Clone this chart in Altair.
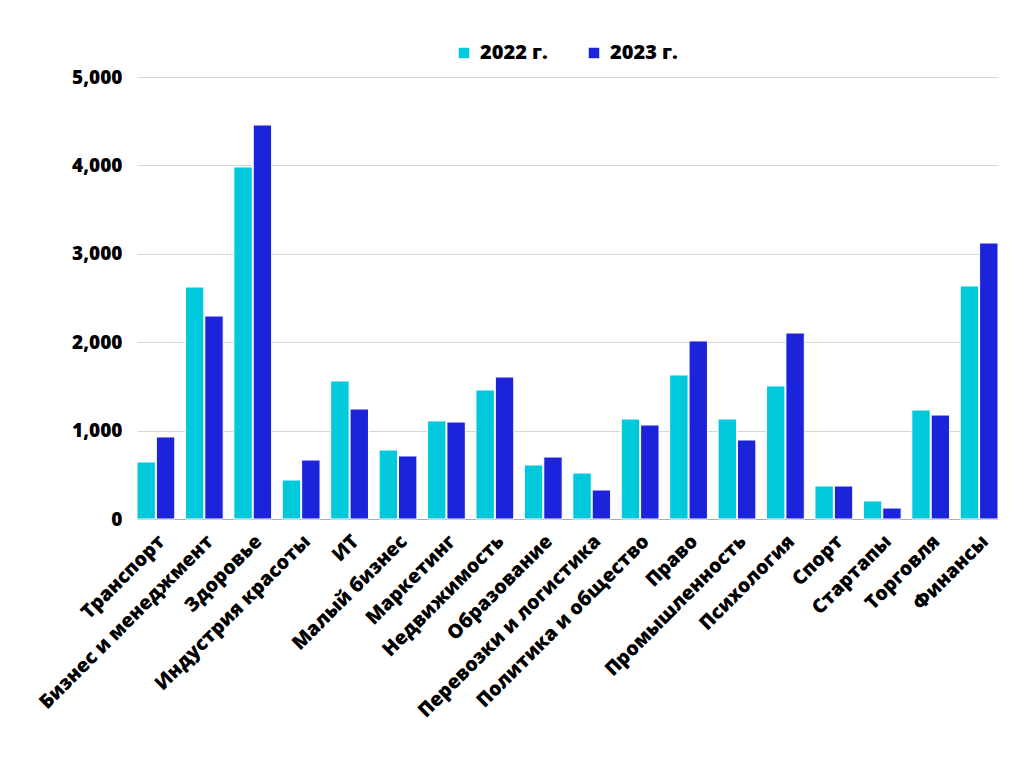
import altair as alt
import pandas as pd

categories = ["Транспорт", "Бизнес и менеджмент", "Здоровье", "Индустрия красоты", "ИТ",
              "Малый бизнес", "Маркетинг", "Недвижимость", "Образование",
              "Перевозки и логистика", "Политика и общество", "Право", "Промышленность",
              "Психология", "Спорт", "Стартапы", "Торговля", "Финансы"]
v2022 = [645, 2624, 3982, 441, 1561, 780, 1109, 1459, 611, 520, 1131, 1629, 1131, 1505, 373, 204, 1233, 2636]
v2023 = [928, 2296, 4457, 667, 1244, 713, 1097, 1606, 701, 328, 1063, 2014, 894, 2104, 373, 124, 1176, 3122]
series = ["2022 г.", "2023 г."]
colors = ["#00c9dc", "#1b23db"]

rows = []
for c, a, b in zip(categories, v2022, v2023):
    rows.append({"cat": c, "year": series[0], "value": a})
    rows.append({"cat": c, "year": series[1], "value": b})
df = pd.DataFrame(rows)

font = "Open Sans"

chart = alt.Chart(df).mark_bar(stroke="white", strokeWidth=1).encode(
    x=alt.X("cat:N", sort=categories, title=None,
            scale=alt.Scale(paddingInner=0.22, paddingOuter=0.0),
            axis=alt.Axis(labelAngle=-45, labelAlign="right", labelBaseline="middle",
                          labelFont=font, labelFontSize=19.5, labelFontWeight=800,
                          labelColor="black", ticks=False, domainColor="#aaaaaa",
                          labelPadding=19, labelOffset=6, labelLimit=400)),
    xOffset=alt.XOffset("year:N", sort=series, scale=alt.Scale(paddingInner=0.05)),
    y=alt.Y("value:Q", title=None,
            scale=alt.Scale(domain=[0, 5000]),
            axis=alt.Axis(values=[0, 1000, 2000, 3000, 4000, 5000], format=",.0f",
                          labelFont=font, labelFontSize=19, labelFontWeight=800,
                          labelColor="black", ticks=False, domain=False,
                          gridColor="#d6d6d6", labelPadding=15)),
    color=alt.Color("year:N", sort=series,
                    scale=alt.Scale(domain=series, range=colors),
                    legend=alt.Legend(title=None, orient="none", direction="horizontal",
                                      legendX=317, legendY=-34,
                                      symbolType="square", symbolSize=110,
                                      symbolStrokeWidth=0,
                                      labelFont=font, labelFontSize=20, labelFontWeight=800,
                                      labelColor="black", labelOffset=6, columnPadding=36)),
).properties(
    width=861, height=442,
    autosize=alt.AutoSizeParams(type="none"),
    padding={"left": 129, "top": 69, "right": 18, "bottom": 240},
    background="white",
).configure_view(stroke=None)

chart.save("out.html", embed_options={"renderer": "svg", "actions": False})
